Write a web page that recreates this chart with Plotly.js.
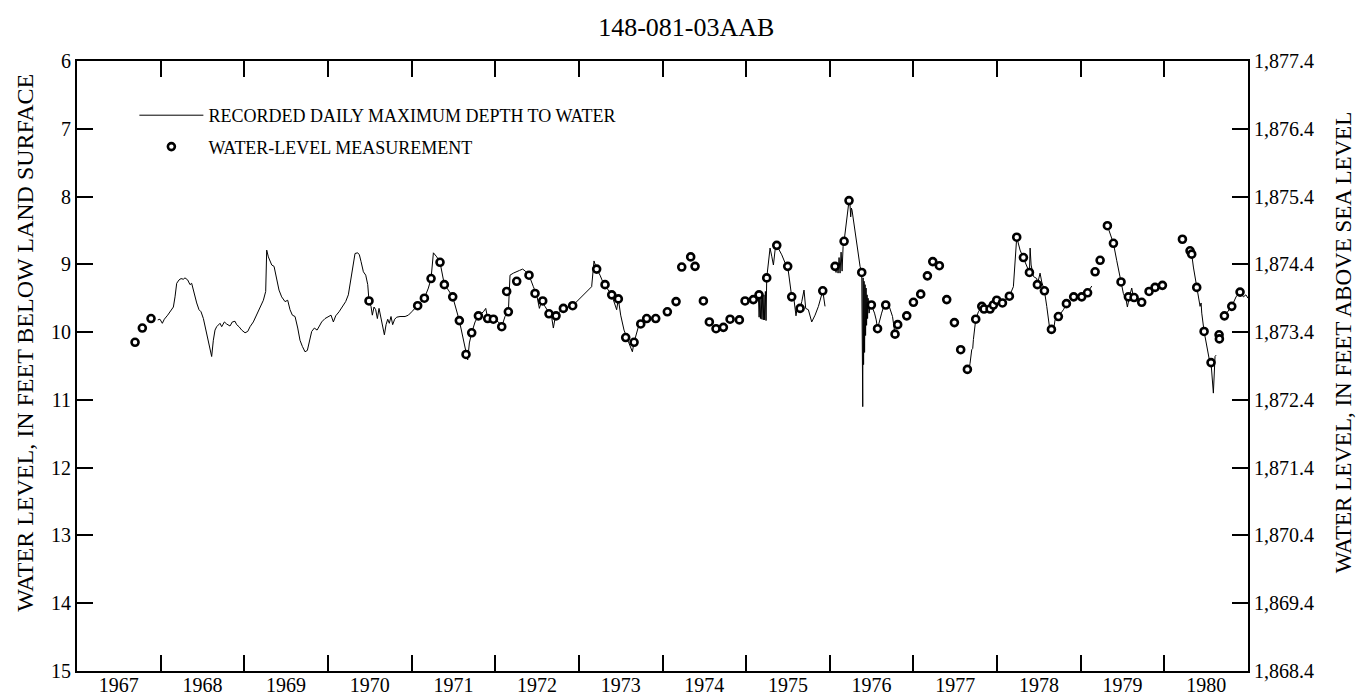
<!DOCTYPE html>
<html>
<head>
<meta charset="utf-8">
<script src="https://cdn.plot.ly/plotly-3.0.1.min.js"></script>
<style>html,body{margin:0;padding:0;background:#fff;}#chart{width:1359px;height:698px;}</style>
</head>
<body>
<div id="chart"></div>
<script>
// Recorded daily maximum depth to water (decimal year, feet below land surface); null = gap in record
const recYear = [
1967.965,1967.992,1968.020,1968.044,1968.084,1968.124,1968.152,1968.172,1968.192,1968.220,1968.244,1968.271,1968.291,1968.323,1968.351,1968.371,1968.403,1968.431,1968.459,1968.483,1968.511,1968.550,1968.582,1968.610,1968.630,1968.650,1968.670,1968.690,1968.710,1968.730,1968.762,1968.789,1968.829,1968.857,1968.889,1968.909,1968.937,1968.969,1969.009,1969.041,1969.069,1969.108,1969.148,1969.188,1969.228,1969.256,1969.268,1969.288,1969.308,1969.328,1969.356,1969.387,1969.415,1969.447,1969.487,1969.519,1969.547,1969.575,1969.607,1969.639,1969.666,1969.694,1969.726,1969.754,1969.778,1969.806,1969.838,1969.870,1969.898,1969.925,1969.965,1970.005,1970.037,1970.065,1970.093,1970.133,1970.173,1970.212,1970.244,1970.276,1970.304,1970.324,1970.356,1970.376,1970.396,1970.424,1970.452,1970.476,1970.491,1970.515,1970.531,1970.551,1970.571,1970.591,1970.611,1970.631,1970.651,1970.675,1970.695,1970.715,1970.734,1970.754,1970.774,1970.798,1970.822,1970.862,1970.922,1970.962,1971.002,1971.042,1971.073,1971.121,1971.153,1971.201,1971.233,1971.261,1971.281,1971.301,1971.340,1971.392,1971.440,1971.492,1971.571,1971.619,1971.651,1971.671,1971.691,1971.719,1971.759,1971.799,1971.859,1971.887,1971.910,1971.978,1972.038,1972.078,1972.117,1972.157,1972.177,1972.217,1972.290,1972.328,1972.360,1972.404,1972.456,1972.496,1972.528,1972.555,1972.595,1972.635,1972.675,1972.695,1972.715,1972.755,1972.815,1972.875,1972.926,1973.153,1973.181,1973.213,1973.253,1973.293,1973.333,1973.393,1973.452,1973.472,1973.500,1973.540,1973.592,1973.640,1973.660,1973.692,1973.712,1973.752,1973.811,
null,
1975.146,1975.155,1975.163,1975.171,1975.180,1975.188,1975.196,1975.205,1975.213,1975.221,1975.230,1975.238,1975.246,1975.286,1975.306,1975.326,1975.346,1975.366,1975.426,1975.466,1975.497,1975.517,1975.545,1975.573,1975.596,1975.616,1975.645,1975.665,1975.692,1975.712,1975.744,1975.784,1975.824,1975.864,1975.892,1975.916,1975.943,
null,
1976.063,1976.075,1976.087,1976.099,1976.111,1976.123,1976.135,1976.147,1976.159,1976.171,1976.230,1976.242,1976.250,1976.258,1976.266,1976.302,1976.330,1976.362,1976.382,1976.394,1976.398,1976.404,1976.410,1976.416,1976.422,1976.428,1976.434,1976.440,1976.446,1976.452,1976.458,1976.470,1976.482,1976.497,1976.535,1976.555,1976.571,1976.600,1976.620,1976.645,1976.669,1976.692,1976.720,1976.750,1976.780,
null,
1977.645,1977.657,1977.677,1977.697,1977.709,1977.717,1977.745,1977.777,1977.817,1977.844,1977.916,1977.956,1977.996,1978.064,1978.147,1978.195,1978.235,1978.275,1978.315,1978.355,1978.387,1978.395,1978.407,1978.435,1978.475,1978.482,1978.514,1978.534,1978.566,1978.594,1978.626,1978.650,1978.673,1978.693,1978.733,1978.793,1978.833,1978.873,1978.913,1979.012,1979.080,1979.132,
null,
1979.319,1979.343,1979.391,1979.430,1979.482,1979.510,1979.542,1979.558,1979.582,1979.610,1979.622,1979.638,1979.690,1979.729,
null,
1980.307,1980.327,1980.347,1980.387,1980.407,1980.427,1980.439,1980.447,1980.475,1980.507,1980.538,1980.558,1980.586,1980.606,1980.618,
null,
1980.718,1980.766,1980.806,1980.857,1980.905,1980.945,1980.975,1981.000
];
const recDepth = [
9.82,9.81,9.87,9.81,9.75,9.67,9.63,9.48,9.28,9.23,9.21,9.22,9.20,9.23,9.30,9.28,9.45,9.57,9.67,9.70,9.80,10.02,10.19,10.36,10.12,9.97,9.92,9.89,9.87,9.92,9.85,9.88,9.91,9.85,9.84,9.89,9.92,9.97,10.01,9.99,9.92,9.85,9.75,9.65,9.53,9.40,8.79,8.89,8.94,9.01,9.03,9.23,9.38,9.48,9.55,9.53,9.67,9.75,9.77,9.94,10.12,10.21,10.29,10.27,10.12,9.99,9.94,9.97,9.91,9.85,9.80,9.77,9.75,9.85,9.76,9.70,9.62,9.55,9.45,9.23,9.03,8.84,8.83,8.86,8.96,9.11,9.16,9.30,9.54,9.62,9.75,9.63,9.67,9.80,9.65,9.76,9.89,10.04,9.89,9.81,9.87,9.77,9.89,9.81,9.78,9.77,9.77,9.75,9.70,9.65,9.61,9.55,9.50,9.35,9.21,8.83,8.86,8.89,8.97,9.30,9.38,9.48,9.83,10.12,10.33,10.41,10.16,10.01,9.85,9.76,9.70,9.65,9.80,9.81,9.85,9.92,9.77,9.70,9.16,9.13,9.09,9.07,9.10,9.16,9.33,9.45,9.65,9.55,9.62,9.70,9.78,9.94,9.80,9.72,9.65,9.63,9.61,9.33,8.95,9.07,9.16,9.28,9.35,9.45,9.67,9.51,9.75,9.97,10.14,10.29,10.15,9.99,9.92,9.83,9.78,
null,
9.45,9.78,9.50,9.80,9.48,9.81,9.47,9.82,9.45,9.82,9.40,9.83,9.20,8.76,8.88,9.01,8.79,8.72,8.86,8.98,9.03,9.23,9.48,9.53,9.76,9.60,9.65,9.55,9.38,9.65,9.67,9.85,9.75,9.62,9.48,9.39,9.62,
null,
9.03,9.12,8.98,9.13,8.90,9.13,8.82,9.10,8.74,8.66,8.06,8.12,8.30,8.17,8.20,8.54,8.78,9.03,9.12,11.10,9.20,10.48,9.25,10.30,9.30,10.05,9.35,9.90,9.45,9.80,9.50,9.72,9.60,9.60,9.72,9.82,9.95,9.80,9.72,9.62,9.60,9.55,9.65,9.77,10.03,
null,
10.55,10.61,10.46,10.26,10.24,10.11,9.81,9.70,9.62,9.66,9.66,9.60,9.53,9.57,9.47,9.33,8.60,8.79,8.90,9.03,9.12,8.76,9.01,9.18,9.21,9.30,9.13,9.26,9.39,9.62,9.92,9.97,9.99,9.82,9.77,9.67,9.58,9.52,9.48,9.48,9.42,9.32,
null,
8.43,8.52,8.69,8.94,9.26,9.43,9.52,9.63,9.48,9.35,9.43,9.49,9.50,9.56,
null,
8.80,8.85,9.04,9.34,9.52,9.62,9.57,9.72,9.99,10.21,10.41,10.45,10.90,10.36,10.34,
null,
9.76,9.68,9.62,9.48,9.41,9.48,9.45,9.50
];

// Water-level measurements
const measYear = [1967.694,1967.781,1967.885,1970.491,1971.073,1971.153,1971.233,1971.340,1971.392,1971.492,1971.571,1971.651,1971.719,1971.799,1971.910,1971.978,1972.078,1972.137,1972.157,1972.257,1972.404,1972.476,1972.568,1972.643,1972.727,1972.815,1972.926,1973.213,1973.313,1973.393,1973.472,1973.560,1973.660,1973.740,1973.811,1973.919,1974.058,1974.162,1974.230,1974.337,1974.389,1974.489,1974.560,1974.640,1974.728,1974.808,1974.919,1974.987,1975.086,1975.154,1975.246,1975.366,1975.497,1975.545,1975.645,1975.916,1976.063,1976.171,1976.230,1976.382,1976.497,1976.571,1976.669,1976.780,1976.812,1976.920,1977.000,1977.087,1977.167,1977.231,1977.310,1977.398,1977.490,1977.565,1977.645,1977.745,1977.817,1977.844,1977.916,1977.956,1977.996,1978.064,1978.147,1978.235,1978.315,1978.387,1978.482,1978.566,1978.650,1978.733,1978.829,1978.916,1979.012,1979.082,1979.172,1979.232,1979.319,1979.391,1979.482,1979.570,1979.638,1979.729,1979.817,1979.889,1979.977,1980.216,1980.307,1980.327,1980.387,1980.475,1980.558,1980.654,1980.658,1980.718,1980.806,1980.905];
const measDepth = [10.15,9.94,9.80,9.54,9.61,9.50,9.21,8.97,9.30,9.48,9.83,10.33,10.01,9.76,9.80,9.81,9.92,9.40,9.70,9.25,9.16,9.43,9.54,9.73,9.76,9.65,9.61,9.07,9.30,9.45,9.51,10.08,10.15,9.88,9.80,9.80,9.70,9.55,9.04,8.89,9.03,9.54,9.85,9.95,9.93,9.81,9.82,9.54,9.52,9.45,9.20,8.72,9.03,9.48,9.65,9.39,9.03,8.66,8.06,9.12,9.60,9.95,9.60,10.03,9.89,9.76,9.56,9.44,9.17,8.96,9.02,9.52,9.86,10.26,10.55,9.81,9.62,9.66,9.66,9.60,9.53,9.57,9.47,8.60,8.90,9.12,9.30,9.39,9.96,9.77,9.58,9.48,9.48,9.42,9.11,8.94,8.43,8.69,9.26,9.48,9.49,9.56,9.40,9.34,9.31,8.63,8.80,8.85,9.34,9.99,10.45,10.04,10.10,9.76,9.62,9.41];

// Axis ticks
const yearBounds = [1968,1969,1970,1971,1972,1973,1974,1975,1976,1977,1978,1979,1980];
const yearLabels = ['1967','1968','1969','1970','1971','1972','1973','1974','1975','1976','1977','1978','1979','1980'];
const depthTicks = [6,7,8,9,10,11,12,13,14,15];
const elevTicks = [1868.4,1869.4,1870.4,1871.4,1872.4,1873.4,1874.4,1875.4,1876.4,1877.4];
const landSurface = 1883.4;

const FONT = 'Liberation Serif, Times New Roman, serif';
const fmtElev = v => { const s = v.toFixed(1); const [i,d] = s.split('.'); return i.replace(/\B(?=(\d{3})+(?!\d))/g, ',') + '.' + d; };
const yearMid = yearLabels.map(y => Number(y) + 0.5);

const traces = [
  {x: recYear, y: recDepth, type: 'scatter', mode: 'lines', connectgaps: false,
   line: {color: '#000', width: 1}, name: 'RECORDED DAILY MAXIMUM DEPTH TO WATER',
   legendgroup: 'a', hoverinfo: 'skip'},
  {x: measYear, y: measDepth, type: 'scatter', mode: 'markers',
   marker: {symbol: 'circle', size: 7, color: '#fff', line: {color: '#000', width: 2.6}},
   name: 'WATER-LEVEL MEASUREMENT', legendgroup: 'b', hoverinfo: 'skip'},
  {x: [null], y: [null], xaxis: 'x2', yaxis: 'y', showlegend: false, hoverinfo: 'skip', type: 'scatter', mode: 'lines'},
  {x: [null], y: [null], xaxis: 'x', yaxis: 'y2', showlegend: false, hoverinfo: 'skip', type: 'scatter', mode: 'lines'}
];

const axisCommon = {showgrid: false, zeroline: false, linecolor: '#000', linewidth: 2,
  tickcolor: '#000', tickwidth: 2, ticklen: 16, ticks: 'inside',
  tickfont: {family: FONT, size: 20, color: '#000'}};

const layout = {
  width: 1359, height: 698,
  margin: {l: 77, r: 111, t: 61, b: 27, pad: 0},
  paper_bgcolor: '#fff', plot_bgcolor: '#fff',
  font: {family: FONT, color: '#000'},
  title: {text: '148-081-03AAB', font: {family: FONT, size: 26, color: '#000'},
          x: 0.505, xref: 'container', xanchor: 'center', y: 0.962, yref: 'container', yanchor: 'middle'},
  showlegend: true,
  legend: {x: 0.049, y: 0.941, xanchor: 'left', yanchor: 'top', xref: 'paper', yref: 'paper',
           font: {family: FONT, size: 18, color: '#000'}, bgcolor: 'rgba(0,0,0,0)',
           itemwidth: 64, traceorder: 'grouped', tracegroupgap: 5, borderwidth: 0},
  xaxis: Object.assign({}, axisCommon, {range: [1967, 1981], tickvals: yearBounds,
           showticklabels: false, mirror: 'ticks', showline: true}),
  xaxis2: {overlaying: 'x', anchor: 'y', side: 'bottom', range: [1967, 1981],
           tickvals: yearMid, ticktext: yearLabels, ticks: '', showline: false,
           showgrid: false, zeroline: false, tickfont: {family: FONT, size: 20, color: '#000'}},
  yaxis: Object.assign({}, axisCommon, {range: [15, 6], tickvals: depthTicks,
           ticktext: depthTicks.map(String), showline: true, side: 'left'}),
  yaxis2: Object.assign({}, axisCommon, {overlaying: 'y', anchor: 'x', side: 'right',
           range: [landSurface - 15, landSurface - 6], tickvals: elevTicks,
           ticktext: elevTicks.map(fmtElev), showline: true}),
  annotations: [
    {text: 'WATER LEVEL, IN FEET BELOW LAND SURFACE', xref: 'paper', yref: 'paper',
     x: -0.0444, y: 0.538, xanchor: 'center', yanchor: 'middle', textangle: -90, showarrow: false,
     font: {family: FONT, size: 24, color: '#000'}},
    {text: 'WATER LEVEL, IN FEET ABOVE SEA LEVEL', xref: 'paper', yref: 'paper',
     x: 1.0815, y: 0.538, xanchor: 'center', yanchor: 'middle', textangle: -90, showarrow: false,
     font: {family: FONT, size: 23, color: '#000'}}
  ]
};

Plotly.newPlot('chart', traces, layout, {staticPlot: true, displayModeBar: false});
</script>
</body>
</html>
